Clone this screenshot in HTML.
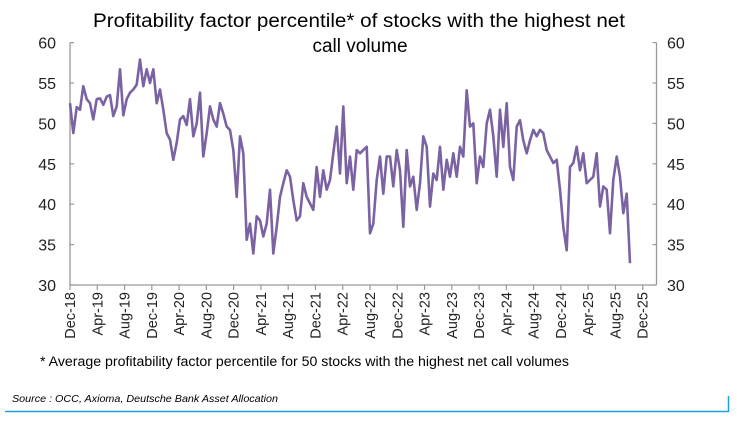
<!DOCTYPE html>
<html><head><meta charset="utf-8"><style>
body{margin:0;background:#fff;width:741px;height:436px;overflow:hidden;font-family:"Liberation Sans",sans-serif;}
svg{position:absolute;left:0;top:0}
</style></head><body>
<svg id="c" width="741" height="436"></svg>
<script>
const yTicks=[30,35,40,45,50,55,60];
const xLabels=["Dec-18","Apr-19","Aug-19","Dec-19","Apr-20","Aug-20","Dec-20","Apr-21","Aug-21","Dec-21","Apr-22","Aug-22","Dec-22","Apr-23","Aug-23","Dec-23","Apr-24","Aug-24","Dec-24","Apr-25","Aug-25","Dec-25"];
const seriesValues=[52.5,48.8,52,51.7,54.6,53,52.5,50.5,53,53.1,52.3,53.3,53.5,50.9,52.1,56.7,51,53,53.8,54.2,54.8,57.9,54.6,56.7,55,56.7,52.5,54.2,51.7,48.8,48,45.5,47.6,50.5,50.9,49.8,53,48.4,50,53.8,45.9,48.8,52.1,50.5,
49.6,52.5,51.2,49.6,49.2,46.7,40.9,48.4,46.3,35.6,37.6,33.9,38.5,38,36,37.6,41.8,33.9,37.2,40.9,42.6,44.2,43.4,40.5,38,38.5,42.6,40.9,40.1,39.3,44.6,40.9,44.2,41.8,43,46.3,49.6,43.8,52.1,42.6,45.9,41.8,46.7,
46.3,46.7,47.1,36.4,37.6,43,45.9,41.3,45.9,45.9,42.2,46.7,44.2,37.2,46.7,42.2,43.4,39.3,42.6,48.4,47.1,39.7,43.8,43,47.1,41.8,45.5,43.4,46.3,43.4,47.1,45.9,54.1,49.6,50,42.6,45.9,44.6,50,51.7,48.4,43.4,51.7,47.1,
52.5,44.6,43,49.6,50.4,47.9,46.3,47.9,49.2,48.4,49.2,48.8,46.7,45.9,45.1,45.5,41.8,37.2,34.3,44.6,45.1,47.1,44.2,46.3,42.6,43,43.4,46.3,39.7,42.2,41.8,36.4,43,45.9,43.4,38.9,41.3,32.7];
const stepMonths=0.4889;
const svg=document.getElementById('c');const NS='http://www.w3.org/2000/svg';
function mk(t,a,txt){const e=document.createElementNS(NS,t);for(const k in a)e.setAttribute(k,a[k]);if(txt!=null)e.textContent=txt;svg.appendChild(e);return e;}
const X0=70,X1=642.7,Y0=285,Y1=42.6;
const xs=m=>X0+m*(X1-X0)/84;
const ys=v=>Y0-(v-30)*(Y0-Y1)/30;
let t=mk('text',{x:93,y:27,'font-size':'19',fill:'#000',textLength:532,lengthAdjust:'spacingAndGlyphs'},'Profitability factor percentile* of stocks with the highest net');

t=mk('text',{x:360,y:52,'text-anchor':'middle','font-size':'19',fill:'#000'},'call volume');

let a=mk('line',{x1:X0,y1:Y1,x2:X0,y2:Y0,stroke:'#999','stroke-width':1.3});

a=mk('line',{x1:656.5,y1:Y1,x2:656.5,y2:Y0,stroke:'#999','stroke-width':1.3});

a=mk('line',{x1:X0,y1:Y0,x2:656.5,y2:Y0,stroke:'#999','stroke-width':1.3});

yTicks.forEach(v=>{const y=ys(v);
 let l=mk('line',{x1:X0,y1:y,x2:X0+4,y2:y,stroke:'#999','stroke-width':1.2});
 l=mk('line',{x1:652.5,y1:y,x2:656.5,y2:y,stroke:'#999','stroke-width':1.2});
 let e=mk('text',{x:56,y:y+6,'text-anchor':'end','font-size':'16',fill:'#222'},v);
 e=mk('text',{x:667,y:y+6,'text-anchor':'start','font-size':'16',fill:'#222'},v);
});
xLabels.forEach((s,i)=>{const x=xs(i*4);
 const l=mk('line',{x1:x,y1:Y0,x2:x,y2:Y0+5,stroke:'#999','stroke-width':1.2});
 const e=mk('text',{x:0,y:0,'text-anchor':'end','font-size':'14.5',fill:'#222',transform:`translate(${x+5},${Y0+7}) rotate(-90)`},s);
 
});
const d=seriesValues.map((v,i)=>(i?'L':'M')+xs(i*stepMonths).toFixed(1)+' '+ys(v).toFixed(1)).join(' ');
const p=mk('path',{d:d,fill:'none',stroke:'#7b62a3','stroke-width':2.6,'stroke-linejoin':'round'});

t=mk('text',{x:40,y:366,'font-size':'13.5',fill:'#000',textLength:529,lengthAdjust:'spacingAndGlyphs'},'* Average profitability factor percentile for 50 stocks with the highest net call volumes');

t=mk('text',{x:12,y:402,'font-size':'10.5','font-style':'italic',fill:'#000',textLength:266,lengthAdjust:'spacingAndGlyphs'},'Source : OCC, Axioma, Deutsche Bank Asset Allocation');

a=mk('path',{d:'M5 411.5 H728.5 V396',fill:'none',stroke:'#1ea0dc','stroke-width':1.5});

</script>
</body></html>
